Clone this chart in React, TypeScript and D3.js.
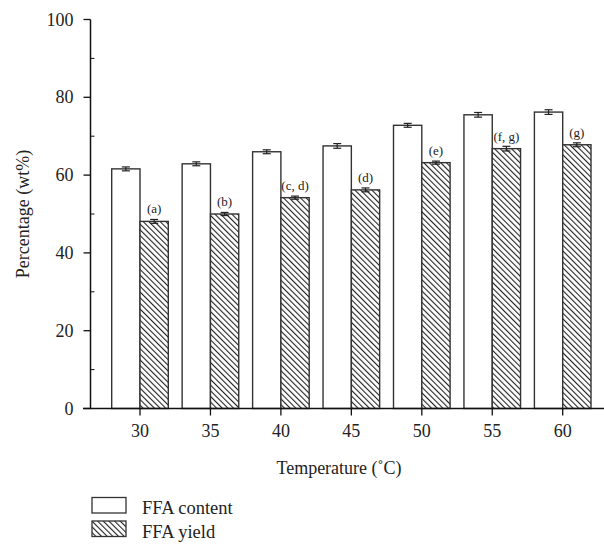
import React from "react";
import * as d3 from "d3";

const categories = ["30", "35", "40", "45", "50", "55", "60"];
const contentValues = [61.6, 62.9, 66.0, 67.5, 72.8, 75.5, 76.2];
const contentErrors = [0.5, 0.5, 0.5, 0.6, 0.5, 0.6, 0.6];
const yieldValues = [48.1, 50.0, 54.2, 56.2, 63.2, 66.8, 67.8];
const yieldErrors = [0.5, 0.4, 0.4, 0.5, 0.4, 0.6, 0.5];
const yieldLabels = ["(a)", "(b)", "(c, d)", "(d)", "(e)", "(f, g)", "(g)"];
const yTicks = [0, 20, 40, 60, 80, 100];
const yMinorTicks = [10, 30, 50, 70, 90];

const FONT = "'Liberation Serif', 'DejaVu Serif', serif";

export default function App() {
  const W = 604;
  const H = 545;
  const axisX = 90.5;
  const x = d3.scalePoint<string>().domain(categories).range([140, 562.7]);
  const y = d3.scaleLinear().domain([0, 100]).range([408.5, 19.5]);
  const barW = 28.3;
  const cap = 4;

  const errBar = (cx: number, v: number, e: number, key: string) => (
    <g key={key} stroke="#222" strokeWidth={1.2}>
      <line x1={cx} x2={cx} y1={y(v + e)} y2={y(v - e)} />
      <line x1={cx - cap} x2={cx + cap} y1={y(v + e)} y2={y(v + e)} />
      <line x1={cx - cap} x2={cx + cap} y1={y(v - e)} y2={y(v - e)} />
    </g>
  );

  return (
    <svg
      width={W}
      height={H}
      style={{ position: "absolute", left: 0, top: 0, background: "#fff" }}
      fontFamily={FONT}
    >
      <defs>
        <pattern id="hatch" patternUnits="userSpaceOnUse" width={4} height={4} patternTransform="rotate(-45)">
          <rect width={4} height={4} fill="#fff" />
          <line x1={0} y1={0} x2={0} y2={4} stroke="#222" strokeWidth={2.2} />
        </pattern>
      </defs>
      <rect width={W} height={H} fill="#fff" />

      {/* bars */}
      {categories.map((c, i) => {
        const cx = x(c)!;
        return (
          <g key={c}>
            <rect
              x={cx - barW}
              y={y(contentValues[i])}
              width={barW}
              height={y(0) - y(contentValues[i])}
              fill="#fff"
              stroke="#333"
              strokeWidth={1.4}
            />
            <rect
              x={cx}
              y={y(yieldValues[i])}
              width={barW}
              height={y(0) - y(yieldValues[i])}
              fill="url(#hatch)"
              stroke="#333"
              strokeWidth={1.4}
            />
            {errBar(cx - barW / 2, contentValues[i], contentErrors[i], "ec" + c)}
            {errBar(cx + barW / 2, yieldValues[i], yieldErrors[i], "ey" + c)}
            <text
              x={cx + barW / 2}
              y={y(yieldValues[i]) - 8}
              textAnchor="middle"
              fontSize={13}
              fill="#222"
            >
              {yieldLabels[i]}
            </text>
          </g>
        );
      })}

      {/* y axis */}
      <line x1={axisX} x2={axisX} y1={y(100)} y2={y(0)} stroke="#111" strokeWidth={1.5} />
      {yTicks.map((t) => (
        <g key={"yt" + t}>
          <line x1={axisX - 7} x2={axisX} y1={y(t)} y2={y(t)} stroke="#111" strokeWidth={1.3} />
          <text x={axisX - 17} y={y(t) + 6} textAnchor="end" fontSize={18} fill="#222">
            {t}
          </text>
        </g>
      ))}
      {yMinorTicks.map((t) => (
        <line key={"ym" + t} x1={axisX} x2={axisX + 4} y1={y(t)} y2={y(t)} stroke="#111" strokeWidth={1} />
      ))}

      {/* x axis */}
      <line x1={83} x2={604} y1={y(0)} y2={y(0)} stroke="#111" strokeWidth={1.5} />
      {categories.map((c) => (
        <g key={"xt" + c}>
          <line x1={x(c)!} x2={x(c)!} y1={y(0)} y2={y(0) + 7} stroke="#111" strokeWidth={1.3} />
          <text x={x(c)!} y={437} textAnchor="middle" fontSize={18} fill="#222">
            {c}
          </text>
        </g>
      ))}

      {/* axis titles */}
      <text x={339} y={474} textAnchor="middle" fontSize={18} fill="#222">
        Temperature (˚C)
      </text>
      <text
        transform={`translate(29,${y(50)}) rotate(-90)`}
        textAnchor="middle"
        fontSize={18}
        fill="#222"
      >
        Percentage (wt%)
      </text>

      {/* legend */}
      <rect x={92} y={497.5} width={34} height={15.5} fill="#fff" stroke="#333" strokeWidth={1.3} />
      <text x={142} y={514} fontSize={18.5} fill="#222">FFA content</text>
      <rect x={92} y={521} width={34} height={15.5} fill="url(#hatch)" stroke="#333" strokeWidth={1.3} />
      <text x={142} y={538} fontSize={18.5} fill="#222">FFA yield</text>
    </svg>
  );
}
